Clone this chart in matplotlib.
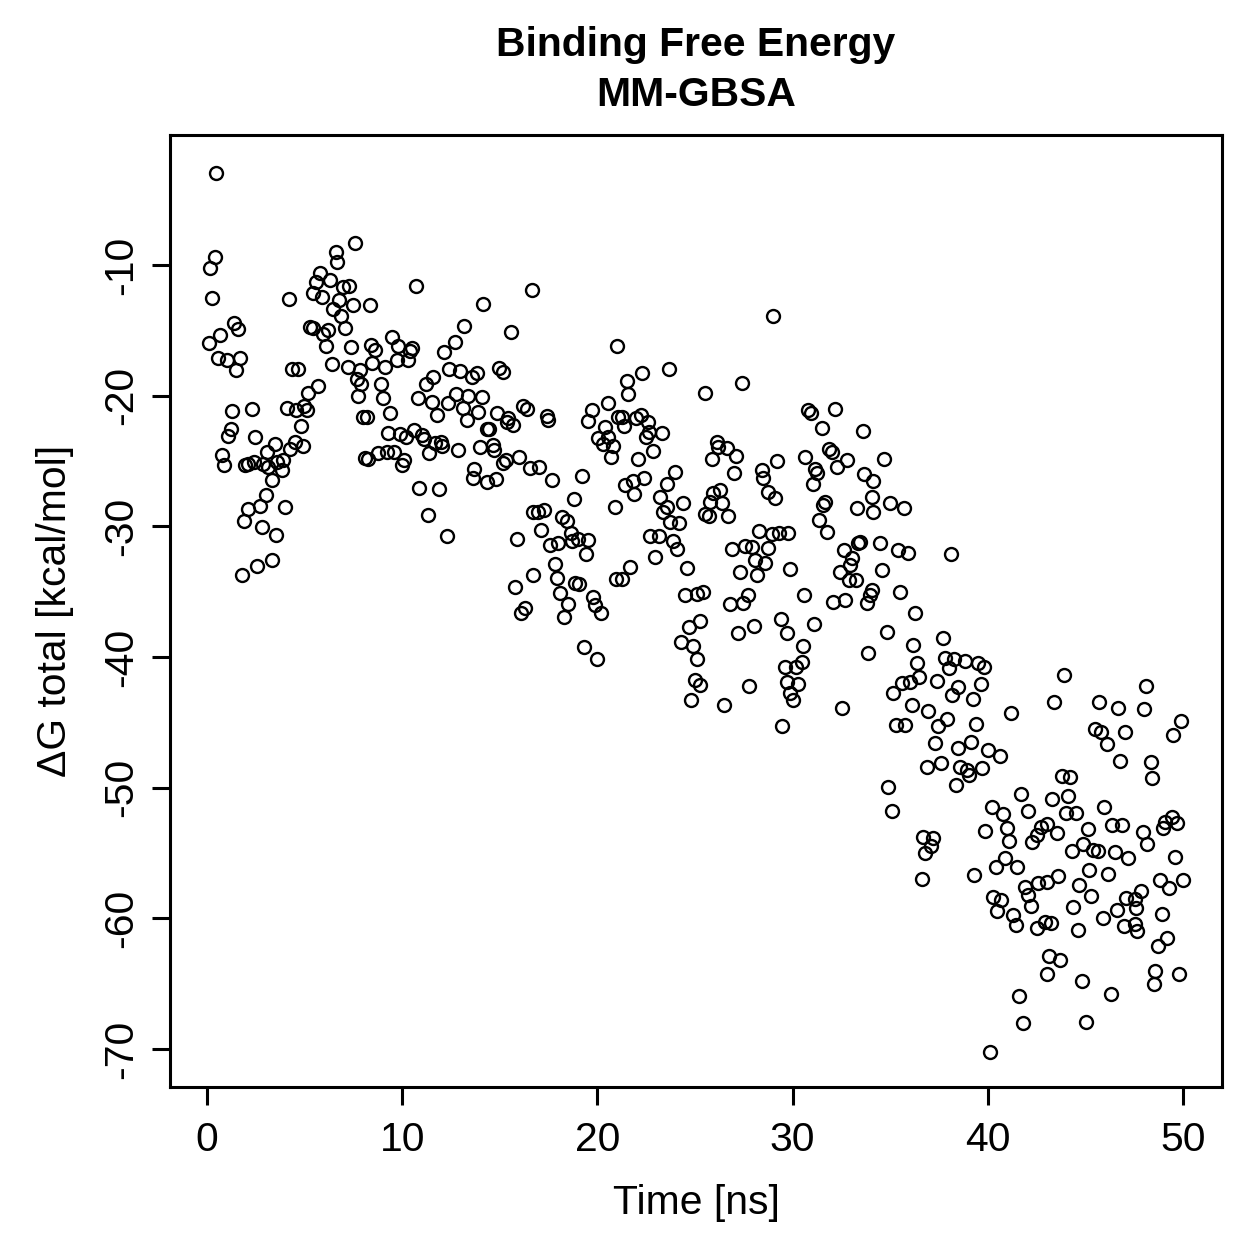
import matplotlib
matplotlib.use("Agg")
import matplotlib.pyplot as plt

# time [ns] and dG total [kcal/mol] in slices of time
time_ns = [
    # 0 - 4 ns
    0.46, 0.41, 0.15, 0.26, 1.38, 1.59, 0.67, 0.10, 0.56, 1.02, 1.69, 1.49, 1.28, 2.30, 1.23, 1.08,
    2.46, 3.48, 3.07, 0.77, 0.87, 1.95, 2.10, 2.41, 2.87, 3.12, 3.59, 3.33, 3.02, 2.72, 2.10, 1.90,
    2.82, 3.53, 3.33, 2.56, 1.79,
    # 4 - 8 ns
    7.58, 6.61, 6.66, 5.79, 5.58, 6.30, 4.20, 5.43, 5.89, 6.97, 7.27, 6.76, 7.48, 6.45, 6.86, 5.28,
    5.43, 6.20, 5.94, 7.07, 6.09, 7.37, 6.40, 4.35, 4.66, 7.22, 7.83, 7.68, 7.89, 7.73, 5.69, 5.17,
    4.10, 4.56, 4.97, 5.12, 4.82, 4.51, 4.92, 4.25, 3.89, 3.84, 7.99, 8.09, 4.00,
    # 8 - 12 ns
    10.71, 8.35, 9.48, 8.40, 8.61, 9.78, 10.50, 10.40, 12.14, 8.45, 9.12, 9.73, 10.30, 12.40, 8.91,
    11.58, 11.22, 9.02, 10.81, 11.53, 12.35, 9.37, 11.78, 8.20, 9.27, 9.89, 10.19, 10.60, 11.01,
    11.12, 11.68, 11.99, 12.04, 11.37, 8.76, 9.22, 9.58, 8.25, 10.09, 9.99, 10.86, 11.89, 11.32, 12.30,
    # 12 - 17 ns
    16.65, 14.14, 13.17, 15.57, 12.71, 12.96, 13.58, 13.83, 14.96, 15.16, 12.76, 13.37, 14.09, 13.11,
    13.32, 13.88, 14.86, 15.42, 15.68, 16.19, 16.39, 15.37, 14.34, 14.45, 12.86, 13.98, 14.65, 14.70,
    15.16, 15.32, 15.98, 16.55, 13.68, 13.63, 14.34, 14.80, 16.70, 15.88, 16.70, 15.78, 16.29, 16.09,
    # 17 - 21 ns
    21.00, 20.54, 19.72, 19.52, 17.42, 17.47, 21.05, 20.39, 20.03, 20.29, 20.54, 20.80, 20.70, 17.01,
    17.67, 19.21, 18.80, 20.90, 16.96, 17.27, 18.18, 18.44, 17.11, 18.65, 18.70, 19.01, 19.52, 17.57,
    17.98, 19.42, 17.83, 17.93, 18.85, 19.06, 20.95, 18.08, 18.49, 19.77, 19.88, 20.18, 18.29, 19.31,
    19.98,
    # 21 - 25.5 ns
    23.67, 22.28, 21.52, 21.57, 25.51, 21.26, 21.36, 21.98, 22.23, 22.59, 22.64, 22.49, 23.31, 22.85,
    22.08, 23.98, 23.57, 21.41, 21.82, 22.39, 21.87, 23.21, 24.39, 23.57, 23.36, 23.72, 24.18, 25.51,
    22.69, 23.16, 23.87, 24.08, 22.95, 21.67, 24.59, 21.26, 24.49, 25.10, 25.41, 25.26, 24.69, 24.28,
    24.90, 25.10, 25.00, 25.26, 24.80,
    # 25.5 - 30 ns
    29.00, 27.41, 26.13, 26.18, 26.64, 25.87, 27.10, 27.00, 29.20, 28.43, 28.48, 28.74, 29.10, 26.28,
    25.92, 25.77, 26.38, 25.72, 26.69, 28.28, 28.94, 29.30, 29.76, 26.90, 27.56, 27.92, 28.74, 28.07,
    28.59, 27.31, 28.18, 29.87, 26.79, 27.46, 27.72, 29.41, 29.71, 27.20, 28.02, 29.61, 26.49, 27.77,
    29.71, 29.87, 29.46,
    # 30 - 34 ns
    30.79, 30.94, 32.17, 31.51, 33.61, 31.86, 32.02, 30.63, 32.79, 32.27, 31.15, 31.25, 33.66, 31.05,
    34.12, 34.07, 31.66, 31.56, 33.30, 34.12, 31.35, 31.76, 32.63, 33.45, 33.35, 33.04, 32.94, 32.43,
    32.89, 33.25, 34.07, 33.97, 33.81, 30.58, 32.07, 32.68, 31.10, 30.53, 30.48, 30.17, 30.28, 30.02,
    33.86, 32.53,
    # 34 - 38.6 ns
    34.68, 34.99, 35.71, 34.48, 35.40, 35.91, 38.11, 34.58, 35.50, 36.27, 34.83, 37.70, 36.17, 36.37,
    37.81, 38.27, 38.01, 35.14, 35.60, 36.01, 36.47, 37.39, 38.16, 38.47, 36.12, 36.93, 37.91, 37.45,
    35.30, 35.76, 37.29, 38.47, 37.60, 36.88, 38.57, 38.37, 34.88, 35.09, 36.68, 37.19, 37.09, 36.78,
    36.63,
    # 38.6 - 43 ns
    38.83, 39.50, 39.80, 39.65, 39.24, 41.19, 39.40, 39.14, 40.01, 40.63, 38.93, 39.04, 39.70, 41.70,
    40.21, 40.78, 42.06, 39.86, 40.98, 41.09, 42.73, 42.52, 42.27, 40.88, 40.42, 41.50, 39.29, 41.91,
    42.57, 42.06, 40.27, 40.68, 40.47, 42.21, 41.29, 41.45, 42.52, 42.93, 41.60, 41.80, 40.11,
    # 43 - 47.2 ns
    43.90, 43.39, 45.70, 46.67, 45.49, 45.80, 47.03, 46.11, 46.77, 43.80, 44.21, 43.29, 44.11, 45.95,
    44.01, 44.52, 43.03, 43.54, 45.13, 46.36, 46.87, 44.31, 44.88, 45.39, 45.64, 46.52, 47.18, 45.18,
    46.16, 43.60, 43.03, 44.67, 45.29, 44.37, 47.08, 46.62, 45.90, 46.98, 43.24, 44.62, 43.13, 43.70,
    43.03, 44.83, 46.31, 45.03,
    # 47.2 - 50 ns
    48.10, 48.00, 49.90, 49.49, 48.36, 48.41, 49.44, 49.08, 49.69, 48.98, 47.95, 48.16, 49.59, 48.82,
    50.00, 49.28, 47.85, 47.54, 47.59, 48.92, 47.54, 47.64, 49.18, 48.72, 48.57, 49.80, 48.51,
]

dg_total = [
    # 0 - 4 ns
    -2.96, -9.39, -10.23, -12.52, -14.44, -14.90, -15.36, -15.97, -17.11, -17.27, -17.11, -18.03,
    -21.17, -21.02, -22.55, -23.08, -23.16, -23.69, -24.31, -24.54, -25.30, -25.30, -25.22, -25.07,
    -25.22, -25.45, -25.07, -26.45, -27.60, -28.44, -28.67, -29.58, -30.04, -30.66, -32.57, -33.03,
    -33.72,
    # 4 - 8 ns
    -8.32, -9.01, -9.77, -10.61, -11.30, -11.15, -12.60, -12.14, -12.45, -11.68, -11.61, -12.68,
    -13.06, -13.37, -13.90, -14.74, -14.82, -14.97, -15.28, -14.82, -16.20, -16.27, -17.57, -17.96,
    -17.96, -17.80, -18.03, -18.72, -19.10, -20.02, -19.26, -19.79, -20.94, -21.09, -20.79, -21.09,
    -22.32, -23.54, -23.85, -24.08, -24.92, -25.68, -21.63, -24.77, -28.51,
    # 8 - 12 ns
    -11.61, -13.06, -15.51, -16.12, -16.50, -16.20, -16.35, -16.58, -16.66, -17.50, -17.80, -17.27,
    -17.27, -17.96, -19.10, -18.57, -19.10, -20.17, -20.17, -20.48, -20.56, -21.32, -21.48, -21.63,
    -22.85, -22.93, -23.16, -22.62, -23.00, -23.31, -23.62, -23.54, -23.85, -24.38, -24.38, -24.31,
    -24.31, -24.84, -24.92, -25.30, -27.06, -27.14, -29.12, -30.73,
    # 12 - 17 ns
    -11.91, -12.98, -14.66, -15.13, -15.89, -18.11, -18.57, -18.26, -17.88, -18.19, -19.87, -20.02,
    -20.10, -20.94, -21.86, -21.25, -21.32, -21.70, -22.24, -20.79, -21.02, -22.01, -22.55, -22.55,
    -24.15, -23.92, -23.77, -24.15, -25.15, -24.92, -24.69, -25.53, -25.61, -26.29, -26.60, -26.37,
    -28.90, -30.96, -33.72, -34.63, -36.24, -36.62,
    # 17 - 21 ns
    -16.20, -20.56, -21.09, -21.93, -21.55, -21.86, -21.63, -22.39, -23.23, -23.69, -23.16, -23.85,
    -24.69, -25.45, -26.45, -26.14, -27.90, -28.51, -28.90, -28.74, -29.28, -29.58, -30.27, -30.50,
    -31.11, -30.96, -31.04, -31.42, -31.27, -32.11, -32.87, -33.95, -34.33, -34.40, -34.02, -35.09,
    -35.93, -35.40, -36.01, -36.62, -36.93, -39.22, -40.14,
    # 21 - 25.5 ns
    -17.96, -18.26, -18.87, -19.86, -19.79, -21.63, -22.32, -21.70, -21.48, -22.01, -22.78, -23.16,
    -22.85, -24.23, -24.84, -25.83, -26.75, -26.83, -26.52, -26.29, -27.52, -27.75, -28.21, -28.51,
    -28.90, -29.66, -29.74, -29.05, -30.73, -30.73, -31.11, -31.72, -32.32, -33.09, -33.17, -34.02,
    -35.24, -35.17, -35.01, -37.23, -37.69, -38.84, -39.15, -40.14, -41.75, -42.13, -43.28,
    # 25.5 - 30 ns
    -13.90, -19.03, -23.54, -23.92, -24.00, -24.84, -24.61, -25.91, -24.99, -25.68, -26.29, -27.36,
    -27.82, -27.21, -27.44, -28.13, -28.21, -29.20, -29.20, -30.35, -30.58, -30.50, -30.50, -31.72,
    -31.49, -31.57, -31.65, -32.57, -32.80, -33.49, -33.72, -33.26, -35.93, -35.86, -35.24, -37.08,
    -38.15, -38.15, -37.62, -40.75, -43.66, -42.21, -41.90, -42.74, -45.26,
    # 30 - 34 ns
    -21.09, -21.32, -21.02, -22.47, -22.70, -24.07, -24.31, -24.69, -24.92, -25.45, -25.60, -25.91,
    -25.99, -26.75, -26.52, -27.75, -28.13, -28.36, -28.59, -28.90, -29.51, -30.43, -31.79, -31.19,
    -31.27, -32.41, -32.95, -33.49, -34.10, -34.10, -34.86, -35.24, -35.86, -35.24, -35.78, -35.61,
    -37.46, -39.13, -40.35, -40.73, -42.03, -43.26, -39.66, -43.87,
    # 34 - 38.6 ns
    -24.84, -28.21, -28.59, -31.26, -31.79, -32.02, -32.09, -33.32, -35.01, -36.62, -38.07, -38.52,
    -39.05, -40.43, -40.06, -40.14, -40.83, -42.74, -41.98, -41.90, -41.52, -41.82, -42.89, -42.28,
    -43.66, -44.12, -44.73, -45.27, -45.19, -45.19, -46.57, -46.95, -48.10, -48.40, -48.40, -49.78,
    -49.93, -51.77, -53.76, -53.83, -54.45, -54.98, -56.97,
    # 38.6 - 43 ns
    -40.29, -40.44, -40.75, -42.05, -43.20, -44.27, -45.11, -46.49, -47.10, -47.56, -48.63, -49.01,
    -48.53, -50.52, -51.51, -52.05, -51.82, -53.35, -53.12, -54.04, -52.97, -53.65, -54.19, -55.41,
    -56.10, -56.03, -56.71, -57.63, -57.32, -58.24, -58.40, -58.62, -59.46, -59.08, -59.77, -60.54,
    -60.76, -60.31, -65.96, -68.03, -70.24,
    # 43 - 47.2 ns
    -41.35, -43.41, -43.41, -43.87, -45.49, -45.72, -45.72, -46.64, -47.94, -49.09, -49.17, -50.85,
    -50.62, -51.46, -51.92, -51.92, -52.76, -53.45, -53.14, -52.83, -52.83, -54.88, -54.34, -54.80,
    -54.88, -54.95, -55.41, -56.26, -56.64, -56.79, -57.25, -57.48, -58.32, -59.16, -58.47, -59.39,
    -60.00, -60.61, -60.38, -60.92, -62.91, -63.21, -64.28, -64.82, -65.81, -67.95,
    # 47.2 - 50 ns
    -42.20, -43.96, -44.88, -45.95, -48.07, -49.22, -52.21, -52.60, -52.67, -53.06, -53.37, -54.34,
    -55.34, -57.10, -57.10, -57.71, -57.94, -58.55, -59.24, -59.70, -60.46, -60.99, -61.53, -62.14,
    -64.05, -64.28, -65.05,
]

x_ticks = [0, 10, 20, 30, 40, 50]
y_ticks = [-70, -60, -50, -40, -30, -20, -10]

W = H = 1259
DPI = 245

plt.rcParams["font.family"] = ["Liberation Sans", "DejaVu Sans"]
plt.rcParams["font.size"] = 12

fig = plt.figure(figsize=(W / DPI, H / DPI), dpi=DPI)
ax = fig.add_axes([170 / W, 1 - 1087 / H, (1222 - 170) / W, (1087 - 135) / H])

ax.plot(time_ns, dg_total, linestyle="none", marker="o", markersize=3.8,
        markerfacecolor="none", markeredgecolor="black", markeredgewidth=0.7)

ax.set_xlim(-1.9, 52.0)
ax.set_ylim(-72.9, -0.06)
ax.set_xticks(x_ticks)
ax.set_yticks(y_ticks)
ax.set_xticklabels([str(v) for v in x_ticks])
ax.set_yticklabels([str(v) for v in y_ticks], rotation=90, va="center")

for s in ax.spines.values():
    s.set_linewidth(0.9)
ax.tick_params(axis="both", direction="out", length=5.4, width=0.9, labelsize=12)
ax.tick_params(axis="x", pad=4.5)
ax.tick_params(axis="y", pad=3.5)

fig.text(696 / W, 1 - 1203 / H, "Time [ns]", ha="center", va="center", fontsize=12)
fig.text(55 / W, 1 - 611 / H, "ΔG total [kcal/mol]", ha="center", va="center",
         rotation=90, fontsize=12)
fig.text(696 / W, 1 - 45 / H, "Binding Free Energy", ha="center", va="center",
         fontsize=12, fontweight="bold")
fig.text(696 / W, 1 - 95 / H, "MM-GBSA", ha="center", va="center",
         fontsize=12, fontweight="bold")

fig.savefig("out.png", dpi=DPI)
plt.close(fig)
